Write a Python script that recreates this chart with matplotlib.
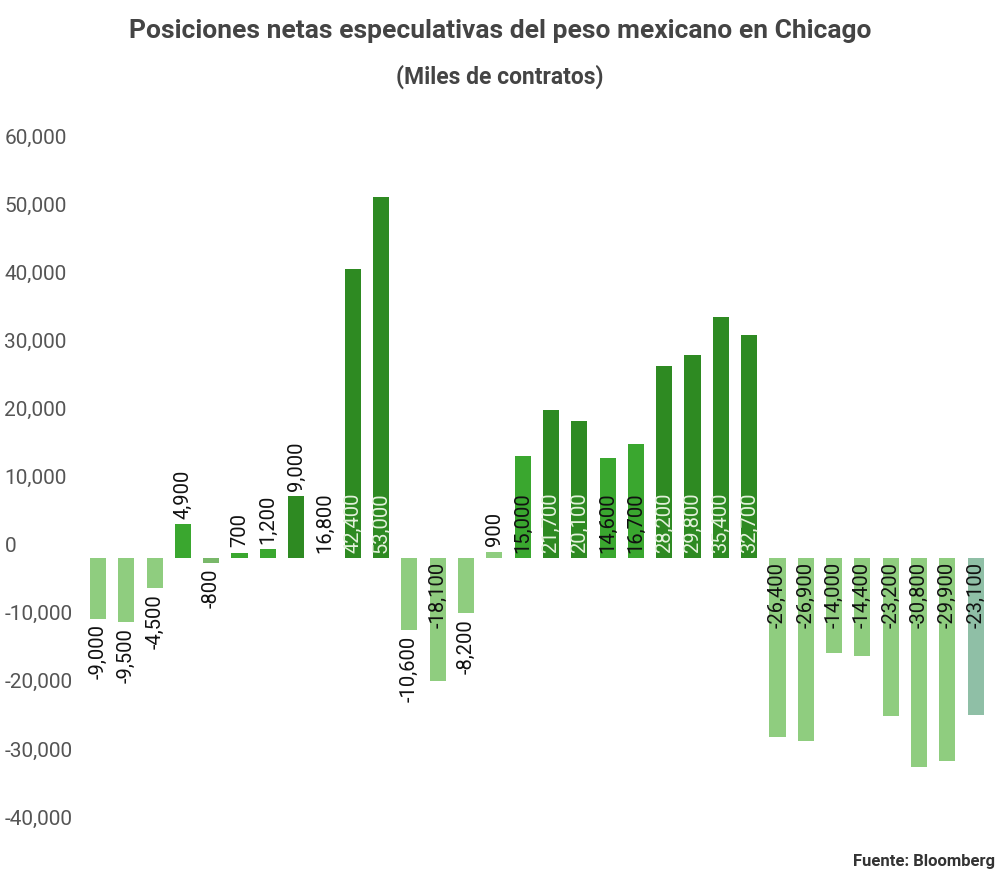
import numpy as np
import matplotlib.pyplot as plt

# Posiciones netas especulativas (miles de contratos)
valores = [-9000, -9500, -4500, 4900, -800, 700, 1200, 9000, 16800, 42400, 53000,
           -10600, -18100, -8200, 900, 15000, 21700, 20100, 14600, 16700, 28200,
           29800, 35400, 32700, -26400, -26900, -14000, -14400, -23200, -30800,
           -29900, -23100]
# tono de cada barra: c=claro, m=medio, o=oscuro, b=blanco, g=gris verdoso
tonos = ['c', 'c', 'c', 'm', 'cm', 'm', 'm', 'o', 'b', 'o', 'o',
         'c', 'c', 'c', 'c', 'm', 'o', 'o', 'm', 'm', 'o',
         'o', 'o', 'o', 'c', 'c', 'c', 'c', 'c', 'c',
         'c', 'g']
yticks = [60000, 50000, 40000, 30000, 20000, 10000, 0, -10000, -20000, -30000, -40000]

colores = {'c': '#8fcd7f', 'cm': '#79b86a', 'm': '#3aa72f', 'o': '#2e8a22',
           'b': '#ffffff', 'g': '#8fbfa6'}

plt.rcParams['font.family'] = ['Roboto', 'DejaVu Sans']

fig = plt.figure(figsize=(10, 8.76), dpi=100)
ax = fig.add_axes([0.0753, 0.0285, 0.923, 0.847])

base = -1900  # las barras del original arrancan algo por debajo del 0
x = np.arange(len(valores))
ax.bar(x, valores, width=0.57, bottom=base,
       color=[colores[t] for t in tonos], edgecolor='none')

for i, v in enumerate(valores):
    txt = f'{v:,}'
    dentro = abs(v) > 12000
    if dentro:
        col = '#e4f2dc' if tonos[i] == 'o' else '#111111'
        if v > 0:
            ax.annotate(txt, (i, base), xytext=(0, 3), textcoords='offset points',
                        rotation=90, ha='center', va='bottom', fontsize=14.5, color=col)
        else:
            ax.annotate(txt, (i, base), xytext=(0, -3), textcoords='offset points',
                        rotation=90, ha='center', va='top', fontsize=14.5, color=col)
    else:
        if v > 0:
            ax.annotate(txt, (i, base + v), xytext=(0, 4), textcoords='offset points',
                        rotation=90, ha='center', va='bottom', fontsize=14.5, color='#111111')
        else:
            ax.annotate(txt, (i, base + v), xytext=(0, -4), textcoords='offset points',
                        rotation=90, ha='center', va='top', fontsize=14.5, color='#111111')

ax.set_xlim(-0.8, 31.8)
ax.set_ylim(-45000, 64000)
ax.set_xticks([])
ax.set_yticks(yticks)
ax.set_yticklabels([f'{t:,}' for t in yticks])
ax.tick_params(axis='y', length=0, pad=51, labelsize=15, labelcolor='#555555')
for lab in ax.get_yticklabels():
    lab.set_horizontalalignment('left')
for s in ax.spines.values():
    s.set_visible(False)

fig.text(0.5, 0.965, 'Posiciones netas especulativas del peso mexicano en Chicago',
         ha='center', va='center', fontsize=19, fontweight='bold', color='#444444')
fig.text(0.5, 0.912, '(Miles de contratos)', ha='center', va='center',
         fontsize=16.5, fontweight='bold', color='#444444')
fig.text(0.995, 0.016, 'Fuente: Bloomberg', ha='right', va='center',
         fontsize=12, fontweight='bold', color='#333333')

fig.savefig('out.png', dpi=100)
